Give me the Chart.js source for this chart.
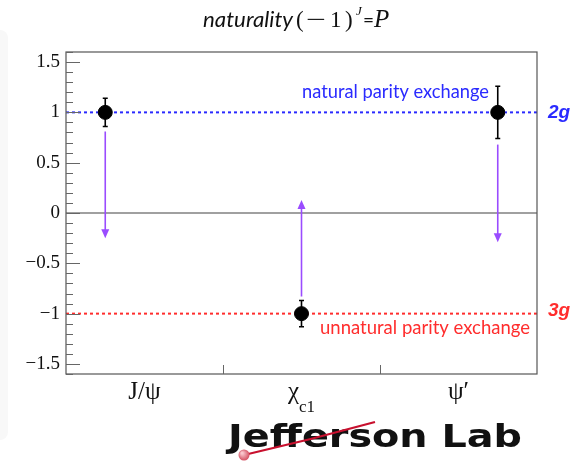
<!DOCTYPE html>
<html>
<head>
<meta charset="utf-8">
<script src="https://cdn.jsdelivr.net/npm/chart.js@4.4.0/dist/chart.umd.min.js"></script>
<style>
  html, body { margin: 0; padding: 0; background: #fff; }
  #wrap { position: relative; width: 585px; height: 462px; }
  canvas { display: block; }
</style>
</head>
<body>
<div id="wrap"><canvas id="c" width="585" height="462"></canvas></div>
<script>
// Charmonium states and their measured naturality
const categories = ['J/\u03C8', '\u03C7', '\u03C8\u2032'];
const categorySubscripts = ['', 'c1', ''];
const categoryCenters = [0.5, 1.5, 2.5];
const categoryBoundaries = [1, 2];
const pointX = [0.25, 1.5, 2.75];
const naturality = [1, -1, 1];
const naturalityErr = [0.14, 0.13, 0.26];
// Shift arrows (start -> tip) drawn next to each state
const arrowStart = [0.81, -0.83, 0.68];
const arrowEnd = [-0.25, 0.13, -0.29];
const yTicks = [-1.5, -1, -0.5, 0, 0.5, 1, 1.5];
const naturalLevel = 1;
const unnaturalLevel = -1;

const BLUE = '#2a2aff';
const RED = '#ff2d2d';
const PURPLE = '#9a4cff';

function fmt(v) {
  return v < 0 ? '\u2212' + String(-v) : String(v);
}

// draw text squeezed or stretched to a given width
function fitText(ctx, text, x, y, width) {
  const w = ctx.measureText(text).width;
  ctx.save();
  ctx.translate(x, y);
  ctx.scale(width / w, 1);
  ctx.fillText(text, 0, 0);
  ctx.restore();
}

const decor = {
  id: 'decor',
  afterDatasetsDraw(chart) {
    const { ctx, scales: { x, y } } = chart;
    ctx.save();
    // purple arrows
    ctx.strokeStyle = PURPLE;
    ctx.fillStyle = PURPLE;
    ctx.lineWidth = 1.6;
    pointX.forEach((px, i) => {
      const xp = x.getPixelForValue(px);
      const y0 = y.getPixelForValue(arrowStart[i]);
      const y1 = y.getPixelForValue(arrowEnd[i]);
      const dir = y1 > y0 ? 1 : -1;
      ctx.beginPath();
      ctx.moveTo(xp, y0);
      ctx.lineTo(xp, y1 - dir * 6);
      ctx.stroke();
      ctx.beginPath();
      ctx.moveTo(xp, y1);
      ctx.lineTo(xp - 4, y1 - dir * 9);
      ctx.lineTo(xp + 4, y1 - dir * 9);
      ctx.closePath();
      ctx.fill();
    });
    // error bars
    ctx.strokeStyle = '#000';
    ctx.lineWidth = 1.6;
    pointX.forEach((px, i) => {
      const xp = x.getPixelForValue(px);
      const yt = y.getPixelForValue(naturality[i] + naturalityErr[i]);
      const yb = y.getPixelForValue(naturality[i] - naturalityErr[i]);
      ctx.beginPath();
      ctx.moveTo(xp, yt); ctx.lineTo(xp, yb);
      ctx.moveTo(xp - 2.5, yt); ctx.lineTo(xp + 2.5, yt);
      ctx.moveTo(xp - 2.5, yb); ctx.lineTo(xp + 2.5, yb);
      ctx.stroke();
    });
    ctx.restore();
  },
  afterDraw(chart) {
    const { ctx, chartArea: a, scales: { x, y } } = chart;
    ctx.save();
    // frame
    ctx.strokeStyle = '#555';
    ctx.lineWidth = 1.2;
    ctx.strokeRect(a.left, a.top, a.right - a.left, a.bottom - a.top);
    // inward y ticks: major every 0.5, minor every 0.1
    ctx.strokeStyle = '#666';
    ctx.lineWidth = 1;
    for (let k = -16; k <= 16; k++) {
      const v = k / 10;
      const yp = Math.round(y.getPixelForValue(v)) + 0.5;
      const len = (k % 5 === 0) ? 14 : 7;
      ctx.beginPath();
      ctx.moveTo(a.left, yp);
      ctx.lineTo(a.left + len, yp);
      ctx.stroke();
    }
    // inward x ticks at category boundaries
    categoryBoundaries.forEach(v => {
      const xp = Math.round(x.getPixelForValue(v)) + 0.5;
      ctx.beginPath();
      ctx.moveTo(xp, a.bottom);
      ctx.lineTo(xp, a.bottom - 9);
      ctx.stroke();
    });
    // category labels
    ctx.fillStyle = '#111';
    ctx.textBaseline = 'alphabetic';
    categories.forEach((c, i) => {
      const xp = x.getPixelForValue(categoryCenters[i]);
      ctx.font = '25px "Liberation Serif"';
      const w = ctx.measureText(c).width;
      ctx.font = '17px "Liberation Serif"';
      const ws = categorySubscripts[i] ? ctx.measureText(categorySubscripts[i]).width : 0;
      const x0 = xp - (w + ws) / 2;
      ctx.font = '25px "Liberation Serif"';
      ctx.textAlign = 'left';
      ctx.fillText(c, x0, 399);
      if (categorySubscripts[i]) {
        ctx.font = '17px "Liberation Serif"';
        ctx.fillText(categorySubscripts[i], x0 + w, 412);
      }
    });
    // reference level annotations
    ctx.textAlign = 'left';
    ctx.font = '18.5px Lato';
    ctx.fillStyle = BLUE;
    fitText(ctx, 'natural parity exchange', 302, 98, 187);
    ctx.fillStyle = RED;
    fitText(ctx, 'unnatural parity exchange', 320, 334, 210);
    ctx.font = 'italic bold 19px "Liberation Sans"';
    ctx.fillStyle = BLUE;
    ctx.fillText('2g', 548, 118);
    ctx.fillStyle = RED;
    ctx.fillText('3g', 548, 316);
    // title: naturality (-1)^J = P
    ctx.fillStyle = '#111';
    const ty = 27;
    ctx.font = 'italic 21px Lato';
    fitText(ctx, 'naturality', 203, ty, 90);
    ctx.font = '23px "Liberation Serif"';
    ctx.fillText('(', 296, ty);
    fitText(ctx, '\u2212', 306, ty, 20);
    ctx.fillText('1', 330, ty);
    ctx.fillText(')', 345, ty);
    ctx.font = 'italic 13px "Liberation Serif"';
    ctx.fillText('J', 356, ty - 12);
    ctx.font = '19px Lato';
    ctx.fillText('=', 363, ty);
    ctx.font = 'italic 25px "Liberation Serif"';
    ctx.fillText('P', 374, ty);
    // lab logo
    ctx.font = 'bold 32px "DejaVu Sans"';
    ctx.fillStyle = '#111';
    fitText(ctx, 'Jefferson Lab', 228, 447, 294);
    ctx.strokeStyle = '#c8102e';
    ctx.lineWidth = 2.2;
    ctx.beginPath();
    ctx.moveTo(244, 455);
    ctx.quadraticCurveTo(310, 440, 375, 422);
    ctx.stroke();
    const g = ctx.createRadialGradient(242, 453, 1, 244, 455, 6);
    g.addColorStop(0, '#f9c6cc');
    g.addColorStop(1, '#d0485a');
    ctx.fillStyle = g;
    ctx.beginPath();
    ctx.arc(244, 455, 5.5, 0, Math.PI * 2);
    ctx.fill();
    ctx.restore();
  }
};

// faint panel along the left edge
const edge = {
  id: 'edge',
  beforeDraw(chart) {
    const ctx = chart.ctx;
    ctx.save();
    ctx.fillStyle = '#f8f8f8';
    ctx.beginPath();
    ctx.roundRect(-10, 30, 18, 410, 8);
    ctx.fill();
    ctx.restore();
  }
};

const points = pointX.map((px, i) => ({ x: px, y: naturality[i] }));
const span = (level) => [{ x: 0, y: level }, { x: 3, y: level }];

new Chart(document.getElementById('c').getContext('2d'), {
  type: 'scatter',
  data: {
    datasets: [
      { type: 'line', data: span(0), borderColor: '#808080', borderWidth: 1.5, pointRadius: 0, order: 4 },
      { type: 'line', data: span(naturalLevel), borderColor: BLUE, borderWidth: 2, borderDash: [3, 3], pointRadius: 0, order: 3 },
      { type: 'line', data: span(unnaturalLevel), borderColor: RED, borderWidth: 2, borderDash: [3, 3], pointRadius: 0, order: 2 },
      { data: points, backgroundColor: '#000', borderColor: '#000', pointRadius: 7, pointHoverRadius: 7, order: 0 }
    ]
  },
  options: {
    responsive: false,
    animation: false,
    devicePixelRatio: 1,
    layout: { padding: { left: 0, top: 52, right: 48, bottom: 0 } },
    plugins: { legend: { display: false }, tooltip: { enabled: false } },
    scales: {
      x: {
        type: 'linear', min: 0, max: 3,
        afterFit(s) { s.height = 88; },
        grid: { display: false, drawTicks: false },
        border: { display: false },
        ticks: { display: false }
      },
      y: {
        type: 'linear', min: -1.6, max: 1.6,
        afterFit(s) { s.width = 66; },
        afterBuildTicks(s) { s.ticks = yTicks.map(v => ({ value: v })); },
        grid: { display: false, drawTicks: false },
        border: { display: false },
        ticks: {
          padding: 6,
          color: '#111',
          font: { family: 'Liberation Serif', size: 19 },
          callback: (v) => fmt(v)
        }
      }
    }
  },
  plugins: [edge, decor]
});
</script>
</body>
</html>
